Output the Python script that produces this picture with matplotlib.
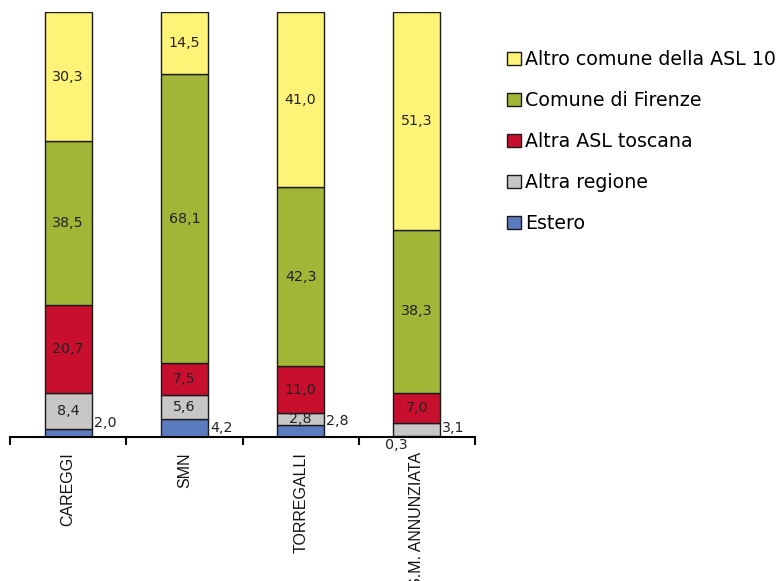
import matplotlib
matplotlib.use("Agg")
import matplotlib.pyplot as plt
from matplotlib.patches import Patch
import numpy as np

plt.rcParams['font.family'] = ['DejaVu Sans']

ospedali = ["CAREGGI", "SMN", "TORREGALLI", "S.M. ANNUNZIATA"]

# serie dal basso verso l'alto
serie = ["Estero", "Altra regione", "Altra ASL toscana",
         "Comune di Firenze", "Altro comune della ASL 10"]
estero = [2.0, 4.2, 2.8, 0.3]
altra_regione = [8.4, 5.6, 2.8, 3.1]
altra_asl = [20.7, 7.5, 11.0, 7.0]
comune_firenze = [38.5, 68.1, 42.3, 38.3]
altro_comune = [30.3, 14.5, 41.0, 51.3]

colori = ["#5b7bbf", "#c9c6c6", "#c8102e", "#a2b536", "#fff477"]

valori = [estero, altra_regione, altra_asl, comune_firenze, altro_comune]

fig = plt.figure(figsize=(7.83, 5.81), dpi=100)
ax = fig.add_axes([10 / 783, 1 - 437 / 581, 465 / 783, 425 / 581])

x = np.arange(len(ospedali))
w = 0.405
base = np.zeros(len(ospedali))
bars = []
for vals, col in zip(valori, colori):
    b = ax.bar(x, vals, w, bottom=base, color=col, edgecolor="#1a1a1a",
               linewidth=1.0, zorder=2)
    bars.append(b)
    base = base + np.array(vals)


def fmt(v):
    return f"{v:.1f}".replace(".", ",")


txt = dict(fontsize=10.3, color="#222222")

# etichette centrate per le tre serie superiori
for s in (2, 3, 4):
    for i, rect in enumerate(bars[s]):
        cy = rect.get_y() + rect.get_height() / 2
        ax.text(x[i], cy, fmt(valori[s][i]), ha="center", va="center", **txt)

# altra regione: dentro la barra, tranne l'ultima (a destra)
for i, rect in enumerate(bars[1]):
    cy = rect.get_y() + rect.get_height() / 2
    if i < 3:
        ax.text(x[i], cy, fmt(altra_regione[i]), ha="center", va="center", **txt)
    else:
        ax.annotate(fmt(altra_regione[i]), (x[i] + w / 2, cy),
                    xytext=(1, 1), textcoords="offset points",
                    ha="left", va="center", **txt)

# estero: a destra della barra, l'ultima sotto a sinistra
dy_estero = [7, 0, 7]
for i, rect in enumerate(bars[0]):
    cy = rect.get_y() + rect.get_height() / 2
    if i < 3:
        ax.annotate(fmt(estero[i]), (x[i] + w / 2, cy),
                    xytext=(1.5, dy_estero[i]), textcoords="offset points",
                    ha="left", va="center", **txt)
    else:
        ax.annotate(fmt(estero[i]), (x[i] - w / 2, 0),
                    xytext=(10, -6), textcoords="offset points",
                    ha="right", va="center", **txt)

ax.set_xlim(-0.5, 3.5)
ax.set_ylim(0, 100)
for sp in ("top", "right", "left"):
    ax.spines[sp].set_visible(False)
ax.spines["bottom"].set_linewidth(1.5)
ax.set_yticks([])

ax.set_xticks(x)
ax.set_xticklabels(ospedali, rotation=90, fontsize=11.5, color="#111111",
                   family="Liberation Sans")
ax.tick_params(axis="x", which="major", length=0, pad=11)
ax.set_xticks(np.arange(-0.5, 4.0, 1.0), minor=True)
ax.tick_params(axis="x", which="minor", length=6, width=1.5, direction="out")

handles = [Patch(facecolor=c, edgecolor="#1a1a1a", linewidth=1.0)
           for c in colori[::-1]]
fig.legend(handles, serie[::-1], loc="upper left",
           bbox_to_anchor=(507 / 783, 1 - 50 / 581), frameon=False,
           fontsize=13.7, handlelength=0.72, handleheight=0.72,
           handletextpad=0.25, labelspacing=1.16, borderpad=0, borderaxespad=0)

fig.savefig("out.png", dpi=100)
